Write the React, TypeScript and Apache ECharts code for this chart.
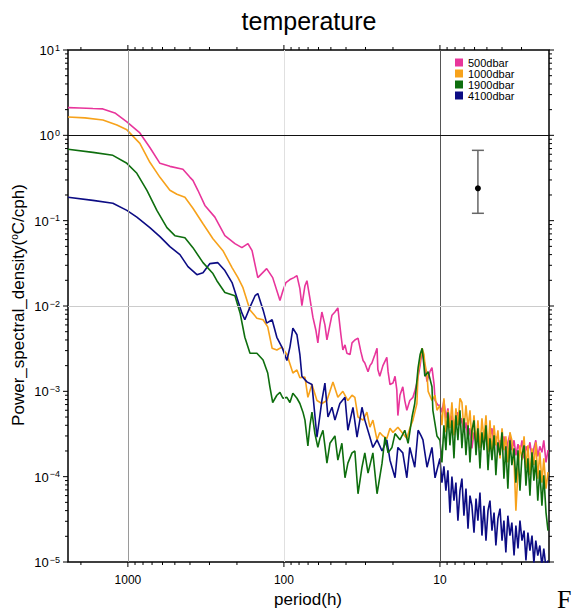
import React, { useEffect, useRef } from "react";
import * as echarts from "echarts";

// [period (h), power spectral density] — low/mid-frequency part
const psd500Low: [number, number][] = [
  [2420, 2.11], [2031, 2.09], [1676, 2.06], [1446, 2.04], [1212, 1.83], [1015, 1.435], [838, 1.067], [723, 0.72], [623, 0.47], [538, 0.433],
  [444, 0.4], [400, 0.322], [383, 0.297], [356, 0.227], [321, 0.151], [277, 0.11], [239, 0.0667], [206, 0.0538], [186, 0.0483], [170, 0.0538],
  [160, 0.0445], [147, 0.0215], [129, 0.0274], [118, 0.0215], [106, 0.0116], [101.5, 0.0151], [97.1, 0.0188], [91.5, 0.0204], [86.3, 0.0215], [82.5, 0.0227],
  [79, 0.016], [76.7, 0.0101], [73.3, 0.0173], [71.2, 0.0198], [68.1, 0.0122], [65.2, 0.0074], [62.4, 0.0052], [60.6, 0.0037], [58.8, 0.006], [57.1, 0.0085],
  [54.6, 0.006], [53, 0.004], [50.7, 0.006], [49.2, 0.0078], [47.1, 0.0085], [45.1, 0.0095], [43.1, 0.00457], [41.9, 0.00305], [40.6, 0.0035], [39.5, 0.0028],
  [37.7, 0.0027], [36.6, 0.0037], [35.1, 0.004], [33.5, 0.0042], [32.1, 0.0029], [31.1, 0.0023], [30.3, 0.00215], [28.9, 0.0017], [28.1, 0.002], [27.3, 0.00215],
  [26.1, 0.0027], [25.3, 0.0032], [25, 0.0018], [24.3, 0.0015], [23.2, 0.002], [21.9, 0.0025], [21.5, 0.0017], [20.9, 0.0012], [20, 0.00125], [19.4, 0.0015],
  [18.9, 0.00104], [18.6, 0.00052], [18.05, 0.0009], [17.3, 0.00113], [16.8, 0.00078], [16.3, 0.0006], [15.6, 0.00078], [14.9, 0.00085], [14.5, 0.001], [14.05, 0.00125],
  [13.4, 0.002], [13.0, 0.00305], [12.66, 0.0023], [12.1, 0.0013], [11.6, 0.0017], [11.25, 0.0019], [10.9, 0.0012], [10.75, 0.00078], [10.3, 0.00069],
];

const psd1000Low: [number, number][] = [
  [2420, 1.64], [1886, 1.6], [1446, 1.51], [1176, 1.32], [1015, 1.16], [838, 0.806], [723, 0.483], [623, 0.322], [538, 0.227], [485, 0.204],
  [431, 0.188], [383, 0.14], [330, 0.092], [285, 0.0615], [246, 0.0445], [215, 0.0282], [197, 0.0215], [183, 0.0164], [165, 0.009], [149, 0.0072],
  [136, 0.0069], [127, 0.0057], [119, 0.0032], [111, 0.00305], [103, 0.0033], [95.7, 0.0027], [87.6, 0.00164], [82.5, 0.00178], [79, 0.00144], [73.3, 0.00147],
  [70.2, 0.00085], [66.1, 0.0012], [61.4, 0.00078], [57.1, 0.00072], [53, 0.00078], [50.7, 0.001], [48.5, 0.00129], [45.1, 0.00085], [41.9, 0.001], [38.9, 0.00078],
  [36.6, 0.0009], [35.1, 0.00085], [33.5, 0.0005], [31.1, 0.00046], [29.4, 0.00057], [28.1, 0.00038], [26.9, 0.00046], [25.3, 0.00027], [24.3, 0.00033], [23.2, 0.0003],
  [21.9, 0.00028], [20.9, 0.00037], [20, 0.00033], [18.6, 0.00038], [17.3, 0.00032], [16.3, 0.00028], [15.6, 0.00037], [14.9, 0.00046], [14.05, 0.00072], [13.8, 0.00164],
  [13.4, 0.0023], [13.0, 0.0032], [12.66, 0.0027], [12.5, 0.00215], [12.1, 0.00156], [11.9, 0.001], [11.25, 0.00078], [10.75, 0.0009], [10.45, 0.0006],
];

const psd1900Low: [number, number][] = [
  [2420, 0.686], [1676, 0.632], [1248, 0.583], [1015, 0.47], [876, 0.359], [755, 0.227], [652, 0.132], [562, 0.0828], [500, 0.0667], [431, 0.0632],
  [383, 0.0483], [330, 0.0322], [285, 0.024], [269, 0.0198], [239, 0.0144], [206, 0.0132], [191, 0.0083], [178, 0.0043], [165, 0.0028], [149, 0.0028],
  [136, 0.00233], [127, 0.00164], [123, 0.00113], [118, 0.00074], [111, 0.0009], [106, 0.00097], [101.5, 0.00083], [95.7, 0.00085], [91.5, 0.00074], [87.6, 0.00095],
  [82.5, 0.00083], [79, 0.00072], [75.5, 0.00057], [73.3, 0.00046], [70.2, 0.00023], [68.1, 0.0004], [66.1, 0.00057], [63.3, 0.00032], [60.6, 0.00022], [58.8, 0.00028],
  [56.2, 0.00035], [54.6, 0.00023], [53, 0.000144], [50.7, 0.000246], [47.1, 0.0003], [45.1, 0.000156], [42.5, 0.000246], [40.6, 0.000097], [38.9, 0.000144], [36.6, 0.00019],
  [35.1, 0.0002], [33.5, 0.000063], [31.6, 0.000129], [30.3, 0.00019], [28.9, 0.00011], [26.9, 0.00019], [25.3, 0.000063], [23.5, 0.000144], [22.5, 0.00029], [21.5, 0.00019],
  [20.3, 0.00022], [19.4, 0.00032], [18.05, 0.00027], [16.8, 0.00035], [16, 0.000246], [15.1, 0.0005], [14.5, 0.00072], [13.8, 0.0019], [13.4, 0.0027], [13.0, 0.0032],
  [12.66, 0.002], [12.5, 0.0015], [11.9, 0.0017], [11.25, 0.00113], [11.1, 0.0006], [10.45, 0.0003],
];

const psd4100Low: [number, number][] = [
  [2420, 0.188], [1676, 0.173], [1248, 0.16], [1015, 0.132], [876, 0.11], [723, 0.083], [623, 0.065], [538, 0.0496], [464, 0.04], [412, 0.0289],
  [361, 0.0233], [330, 0.0246], [298, 0.0314], [265, 0.0322], [239, 0.026], [215, 0.0188], [200, 0.0125], [186, 0.0083], [178, 0.0069], [165, 0.0097],
  [153, 0.0132], [147, 0.014], [136, 0.009], [129, 0.0063], [119, 0.0069], [111, 0.0043], [103, 0.0033], [95.7, 0.0023], [91.5, 0.0033], [87.6, 0.0055],
  [82.5, 0.0046], [79, 0.0027], [76.7, 0.0015], [71.2, 0.00129], [66.1, 0.0012], [61.4, 0.00029], [58.8, 0.00052], [57.1, 0.00078], [54.6, 0.00125], [52.2, 0.0005],
  [49.2, 0.00065], [47.1, 0.00046], [43.8, 0.00072], [40.6, 0.00085], [38.9, 0.00035], [36.1, 0.00065], [34, 0.00029], [31.6, 0.00065], [30.3, 0.00046], [28.1, 0.00029],
  [26.9, 0.00022], [25.3, 0.00027], [23.5, 0.0002], [21.9, 0.00027], [20.9, 0.000156], [19.4, 0.000097], [18.6, 0.00022], [17.3, 0.00019], [16.3, 0.000097], [15.6, 0.00022],
  [14.5, 0.000129], [13.8, 0.00035], [13.2, 0.0003], [12.85, 0.00027], [12.1, 0.000129], [11.25, 0.00022], [10.75, 0.000097],
];

// high-frequency part (period 10 h → 2 h), shared period grid
const tailPeriods = [
  10, 9.71, 9.43, 9.16, 8.89, 8.63, 8.38, 8.13, 7.9, 7.67, 7.44, 7.23, 7.02, 6.81, 6.61, 6.42, 6.24, 6.05, 5.87, 5.71,
  5.54, 5.38, 5.22, 5.07, 4.92, 4.78, 4.64, 4.5, 4.38, 4.25, 4.12, 4.0, 3.89, 3.78, 3.67, 3.56, 3.46, 3.35, 3.26, 3.16,
  3.07, 2.98, 2.89, 2.81, 2.73, 2.65, 2.57, 2.5, 2.43, 2.36, 2.29, 2.22, 2.16, 2.09, 2.03,
];
const tail500 = [
  0.000686, 0.000568, 0.000785, 0.000483, 0.000632, 0.0004, 0.000524, 0.000349, 0.000483, 0.000568, 0.0004, 0.000483, 0.000331, 0.000433, 0.000282, 0.000369, 0.000215, 0.000331, 0.000253, 0.000349,
  0.000227, 0.000297, 0.00024, 0.000349, 0.000215, 0.000282, 0.000369, 0.000227, 0.000297, 0.000193, 0.000267, 0.000215, 0.000297, 0.000173, 0.000253, 0.000314, 0.000204, 0.000267, 0.000178, 0.00024,
  0.000193, 0.000267, 0.000164, 0.000227, 0.000193, 0.000253, 0.000164, 0.000215, 0.000267, 0.000173, 0.000227, 0.000193, 0.000267, 0.000147, 0.000204,
];
const tail1000 = [
  0.000686, 0.0004, 0.000828, 0.000331, 0.000599, 0.000369, 0.000743, 0.000305, 0.000632, 0.0004, 0.000828, 0.000743, 0.000349, 0.000686, 0.000369, 0.000599, 0.000267, 0.000524, 0.000233, 0.000457,
  0.000215, 0.000483, 0.000267, 0.000524, 0.000193, 0.000457, 0.000178, 0.0004, 0.000233, 0.000349, 0.000164, 0.000369, 0.000204, 0.000297, 0.000147, 0.000331, 0.000267, 0.000156, 0.00004, 0.000119,
  0.000233, 0.000156, 0.000297, 0.000125, 0.000233, 0.000104, 0.000215, 0.000136, 0.000253, 0.0000948, 0.000193, 0.0000851, 0.000164, 0.0000724, 0.000113,
];
const tail1900 = [
  0.000267, 0.000147, 0.0004, 0.000204, 0.000568, 0.000233, 0.000457, 0.000164, 0.000524, 0.000267, 0.000599, 0.000215, 0.000483, 0.000178, 0.0004, 0.000147, 0.000349, 0.000457, 0.000178, 0.000369,
  0.000125, 0.000331, 0.000204, 0.0004, 0.000119, 0.000282, 0.000156, 0.000305, 0.000104, 0.000253, 0.000178, 0.000331, 0.0000948, 0.000227, 0.0000724, 0.000267, 0.000136, 0.000215, 0.0000851, 0.000204,
  0.0000686, 0.000178, 0.000233, 0.0000785, 0.000164, 0.0000599, 0.000193, 0.0000898, 0.000156, 0.0000524, 0.000119, 0.0000457, 0.000104, 0.0000379, 0.0000233,
];
const tail4100 = [
  0.000164, 0.0000851, 0.000132, 0.0000686, 0.000119, 0.0000379, 0.0001, 0.0000524, 0.0000851, 0.0000305, 0.0000686, 0.0000948, 0.0000349, 0.0000724, 0.0000246, 0.0000599, 0.0000457, 0.0000221, 0.0000553, 0.0000305,
  0.000065, 0.0000204, 0.0000457, 0.0000178, 0.00004, 0.0000524, 0.0000233, 0.0000379, 0.0000156, 0.0000322, 0.0000422, 0.0000178, 0.0000305, 0.0000129, 0.0000349, 0.0000204, 0.0000289, 0.0000119, 0.0000267, 0.0000144,
  0.0000305, 0.0000178, 0.0000233, 0.0000104, 0.0000221, 0.0000136, 0.0000204, 0.0000098, 0.0000178, 0.0000119, 0.0000156, 0.000009, 0.0000144, 0.0000085, 0.0000104,
];

const seriesNames = ["500dbar", "1000dbar", "1900dbar", "4100dbar"];
const seriesColors = ["#E8359B", "#F7A21B", "#0E6E0E", "#0C0C84"];

// [period, centre, lower, upper] of the confidence bar
const errorBar: number[][] = [[5.71, 0.2395, 0.122, 0.667]];

const xLabelValues = [1000, 100, 10];
const xMajorTicks = [1000, 100, 10];
const xMinorTicks = [2000, 900, 800, 700, 600, 500, 400, 300, 200, 90, 80, 70, 60, 50, 40, 30, 20, 9, 8, 7, 6, 5, 4, 3];
const yMajorTicks = [1e-5, 1e-4, 1e-3, 1e-2, 1e-1, 1, 10];
const yMinorMantissas = [2, 3, 4, 5, 6, 7, 8, 9];
const yMinorDecades = [1e-5, 1e-4, 1e-3, 1e-2, 1e-1, 1];

const vGridLines = [
  { v: 1000, color: "#9a9a9a" },
  { v: 100, color: "#e0e0e0" },
  { v: 10, color: "#555555" },
];
const hGridLines = [
  { v: 1, color: "#111111" },
  { v: 0.01, color: "#cccccc" },
  { v: 0.001, color: "#222222" },
  { v: 0.0001, color: "#333333" },
];

const FONT = '"Liberation Sans", Arial, Helvetica, sans-serif';

function withTail(low: [number, number][], tail: number[]): [number, number][] {
  return [...low, ...tailPeriods.map((p, i) => [p, tail[i]] as [number, number])];
}

export default function App() {
  const ref = useRef<HTMLDivElement>(null);

  useEffect(() => {
    if (!ref.current) return;
    const chart = echarts.init(ref.current, undefined, { renderer: "svg" });

    const tickData: number[][] = [];
    xMajorTicks.forEach((v) => tickData.push([v, 1, 0, 5]));
    xMinorTicks.forEach((v) => tickData.push([v, 1, 0, 3]));
    yMajorTicks.forEach((v) => tickData.push([10, v, 1, 5]));
    yMinorDecades.forEach((d) => yMinorMantissas.forEach((m) => tickData.push([10, m * d, 1, 3])));

    const s500 = withTail(psd500Low, tail500);
    const s1000 = withTail(psd1000Low, tail1000);
    const s1900 = withTail(psd1900Low, tail1900);
    const s4100 = withTail(psd4100Low, tail4100);

    // drawing order: pink, orange, navy, green (green on top)
    const datasets = [s500, s1000, s4100, s1900];
    const names = [seriesNames[0], seriesNames[1], seriesNames[3], seriesNames[2]];
    const colors = [seriesColors[0], seriesColors[1], seriesColors[3], seriesColors[2]];

    const option: any = {
      animation: false,
      color: seriesColors,
      grid: {
        left: 68,
        right: 24,
        top: 50,
        bottom: 50,
        show: true,
        borderColor: "#000",
        borderWidth: 1.5,
        backgroundColor: "transparent",
      },
      legend: {
        data: seriesNames,
        orient: "vertical",
        left: 455,
        top: 57,
        padding: 0,
        itemGap: 0,
        itemWidth: 8,
        itemHeight: 8,
        icon: "rect",
        textStyle: { fontSize: 11, fontFamily: FONT, color: "#000", lineHeight: 11 },
      },
      xAxis: {
        type: "log",
        logBase: 10,
        min: 2,
        max: 2420,
        inverse: true,
        axisLine: { show: false },
        axisTick: { show: false },
        splitLine: { show: false },
        axisLabel: {
          margin: 12,
          fontSize: 12,
          fontFamily: FONT,
          color: "#000",
          formatter: (v: number) => (xLabelValues.some((t) => Math.abs(t - v) / t < 1e-6) ? String(Math.round(v)) : ""),
        },
      },
      yAxis: {
        type: "log",
        logBase: 10,
        min: 1e-5,
        max: 10,
        axisLine: { show: false },
        axisTick: { show: false },
        splitLine: { show: false },
        axisLabel: {
          margin: 8,
          color: "#000",
          formatter: (v: number) => {
            const l = Math.log10(v);
            const e = Math.round(l);
            if (Math.abs(l - e) > 1e-6) return "";
            const s = e < 0 ? "\u2212" + -e : String(e);
            return `{b|10}{s|${s}}`;
          },
          rich: {
            b: { fontSize: 13, fontFamily: FONT, color: "#000", lineHeight: 14, verticalAlign: "bottom" },
            s: { fontSize: 9, fontFamily: FONT, color: "#000", lineHeight: 14, verticalAlign: "top", padding: [0, 0, 0, 1] },
          },
        },
      },
      graphic: [
        {
          type: "text",
          x: 309,
          y: 21,
          style: { text: "temperature", font: `25px ${FONT}`, fill: "#000", textAlign: "center", textVerticalAlign: "middle" },
        },
        {
          type: "text",
          x: 308,
          y: 599,
          style: { text: "period(h)", font: `17px ${FONT}`, fill: "#000", textAlign: "center", textVerticalAlign: "middle" },
        },
        {
          type: "text",
          x: 18,
          y: 305,
          rotation: Math.PI / 2,
          style: {
            text: "{a|Power_spectral_density(}{s|o}{a|C/cph)}",
            rich: {
              a: { fontSize: 17, fontFamily: FONT, fill: "#000", color: "#000", lineHeight: 18, verticalAlign: "bottom" },
              s: { fontSize: 10, fontFamily: FONT, fill: "#000", color: "#000", lineHeight: 18, verticalAlign: "top" },
            },
            textAlign: "center",
            textVerticalAlign: "middle",
          },
        },
        {
          type: "text",
          x: 557,
          y: 599,
          style: { text: "F", font: `26px "Liberation Serif", "DejaVu Serif", serif`, fill: "#000", textAlign: "left", textVerticalAlign: "middle" },
        },
      ],
      series: [
        {
          name: "gridlines",
          type: "line",
          data: [],
          z: 1,
          silent: true,
          markLine: {
            silent: true,
            symbol: ["none", "none"],
            label: { show: false },
            animation: false,
            data: [
              ...vGridLines.map((g) => ({ xAxis: g.v, lineStyle: { color: g.color, width: 1, type: "solid" } })),
              ...hGridLines.map((g) => ({ yAxis: g.v, lineStyle: { color: g.color, width: 1, type: "solid" } })),
            ],
          },
        },
        ...datasets.map((d, i) => ({
          name: names[i],
          type: "line",
          data: d,
          showSymbol: false,
          symbol: "none",
          clip: true,
          z: 3,
          lineStyle: { width: 1.6, color: colors[i] },
          itemStyle: { color: colors[i] },
        })),
        {
          name: "ticks",
          type: "custom",
          z: 5,
          silent: true,
          clip: false,
          encode: { x: 0, y: 1 },
          data: tickData,
          renderItem: (params: any, api: any) => {
            const cs = params.coordSys;
            const kind = api.value(2);
            const len = api.value(3);
            const st = { stroke: "#000", lineWidth: 1 };
            if (kind === 0) {
              const x = api.coord([api.value(0), 1])[0];
              return {
                type: "group",
                children: [
                  { type: "line", shape: { x1: x, y1: cs.y + cs.height, x2: x, y2: cs.y + cs.height + len }, style: st },
                  { type: "line", shape: { x1: x, y1: cs.y, x2: x, y2: cs.y - len }, style: st },
                ],
              };
            }
            const y = api.coord([10, api.value(1)])[1];
            return {
              type: "group",
              children: [
                { type: "line", shape: { x1: cs.x, y1: y, x2: cs.x - len, y2: y }, style: st },
                { type: "line", shape: { x1: cs.x + cs.width, y1: y, x2: cs.x + cs.width + len, y2: y }, style: st },
              ],
            };
          },
        },
        {
          name: "errorbar",
          type: "custom",
          z: 6,
          silent: true,
          encode: { x: 0, y: 1 },
          data: errorBar,
          renderItem: (params: any, api: any) => {
            const c = api.coord([api.value(0), api.value(1)]);
            const lo = api.coord([api.value(0), api.value(2)]);
            const hi = api.coord([api.value(0), api.value(3)]);
            const st = { stroke: "#666", lineWidth: 1.5 };
            return {
              type: "group",
              children: [
                { type: "line", shape: { x1: c[0], y1: lo[1], x2: c[0], y2: hi[1] }, style: st },
                { type: "line", shape: { x1: c[0] - 6, y1: lo[1], x2: c[0] + 6, y2: lo[1] }, style: st },
                { type: "line", shape: { x1: c[0] - 6, y1: hi[1], x2: c[0] + 6, y2: hi[1] }, style: st },
                { type: "circle", shape: { cx: c[0], cy: c[1], r: 3 }, style: { fill: "#000" } },
              ],
            };
          },
        },
      ],
    };

    chart.setOption(option);
    return () => chart.dispose();
  }, []);

  return <div ref={ref} style={{ position: "absolute", left: 0, top: 0, width: 573, height: 612, background: "#fff" }} />;
}
